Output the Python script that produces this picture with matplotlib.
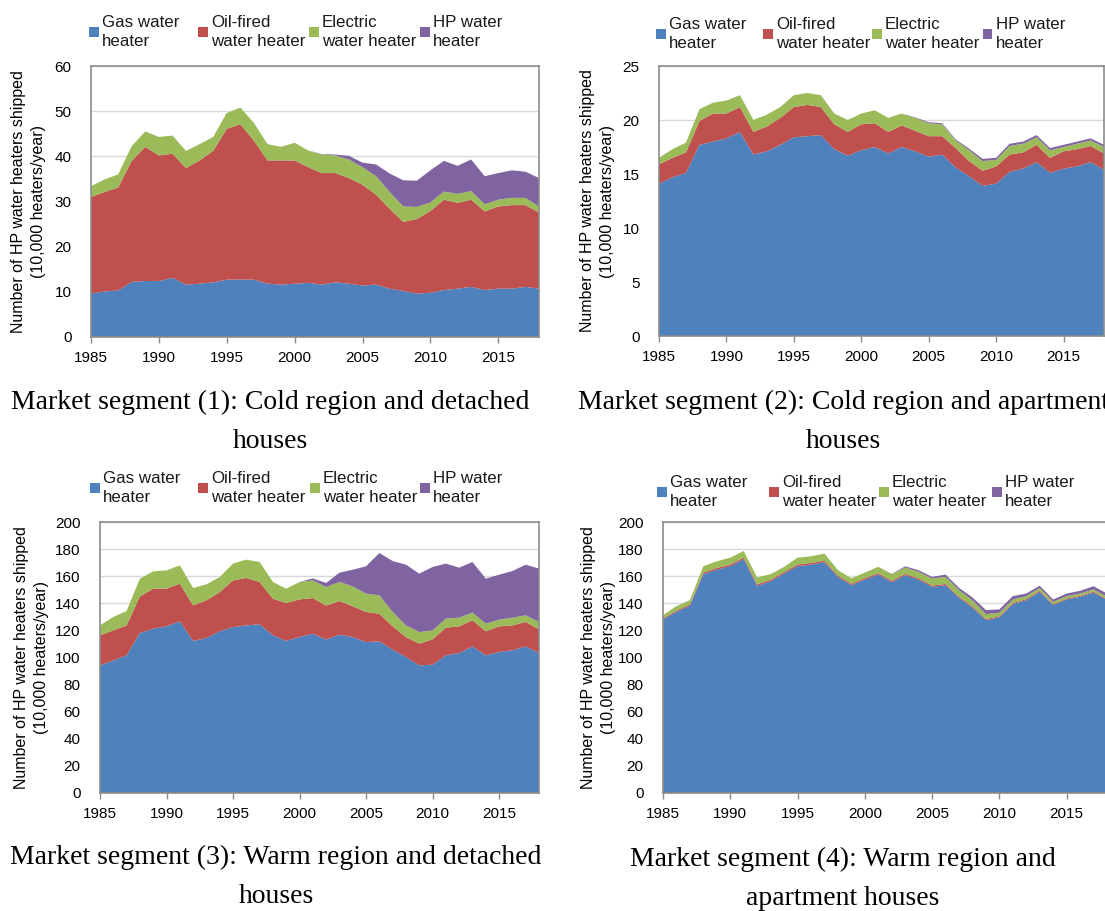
import matplotlib
matplotlib.use("Agg")
import matplotlib.pyplot as plt
from matplotlib.patches import Rectangle

W, H = 1105, 911

years = list(range(1985, 2019))

# shipments, 10,000 heaters/year
# (1) cold region, detached houses
gas_1 = [9.6, 10.1, 10.3, 12.2, 12.4, 12.4, 13.1, 11.6, 11.8, 12.1, 12.7, 12.7,
         12.7, 11.8, 11.6, 11.8, 12.0, 11.6, 12.1, 11.8, 11.4, 11.6, 10.7, 10.2,
         9.6, 9.8, 10.4, 10.7, 11.1, 10.4, 10.7, 10.7, 11.1, 10.7]
oil_1 = [21.4, 22.0, 22.8, 26.8, 29.7, 27.8, 27.5, 25.8, 27.3, 29.1, 33.4, 34.4,
         30.8, 27.3, 27.5, 27.3, 25.6, 24.7, 24.2, 23.4, 22.3, 19.9, 17.7, 15.3,
         16.5, 18.1, 20.0, 19.0, 19.3, 17.4, 18.2, 18.5, 18.1, 16.9]
elec_1 = [2.4, 2.8, 2.9, 3.3, 3.4, 4.1, 4.0, 3.8, 3.6, 3.1, 3.5, 3.7,
          3.9, 3.6, 3.0, 3.9, 3.7, 4.1, 3.9, 4.1, 3.9, 4.1, 3.7, 3.4,
          2.7, 1.9, 1.8, 2.0, 1.9, 1.6, 1.5, 1.6, 1.6, 1.3]
hp_1 = [0, 0, 0, 0, 0, 0, 0, 0, 0, 0, 0, 0,
        0, 0, 0, 0, 0, 0.1, 0.2, 0.8, 1.0, 2.6, 4.1, 5.8,
        5.8, 7.1, 6.8, 6.2, 7.0, 6.2, 5.9, 6.1, 5.8, 6.3]

# (2) cold region, apartment houses
gas_2 = [14.1, 14.7, 15.1, 17.7, 18.0, 18.3, 18.9, 16.8, 17.1, 17.7, 18.4, 18.5,
         18.6, 17.3, 16.7, 17.2, 17.5, 16.9, 17.5, 17.1, 16.6, 16.8, 15.6, 14.8,
         13.9, 14.1, 15.2, 15.5, 16.1, 15.1, 15.5, 15.7, 16.1, 15.4]
oil_2 = [1.8, 1.8, 1.9, 2.2, 2.6, 2.3, 2.3, 2.1, 2.3, 2.5, 2.8, 2.9,
         2.6, 2.3, 2.2, 2.4, 2.2, 2.0, 2.0, 1.9, 1.9, 1.7, 1.8, 1.4,
         1.4, 1.6, 1.6, 1.5, 1.6, 1.4, 1.6, 1.6, 1.5, 1.5]
elec_2 = [0.6, 0.8, 0.9, 1.1, 1.0, 1.2, 1.1, 1.1, 1.1, 1.0, 1.1, 1.1,
          1.1, 1.0, 1.1, 1.0, 1.2, 1.3, 1.1, 1.2, 1.2, 1.1, 0.7, 1.0,
          0.9, 0.6, 0.8, 0.8, 0.7, 0.7, 0.4, 0.5, 0.5, 0.6]
hp_2 = [0, 0, 0, 0, 0, 0, 0, 0, 0, 0, 0, 0,
        0, 0, 0, 0, 0, 0, 0, 0.05, 0.1, 0.1, 0.1, 0.15,
        0.2, 0.2, 0.2, 0.2, 0.2, 0.2, 0.2, 0.2, 0.2, 0.2]

# (3) warm region, detached houses
gas_3 = [94.2, 97.9, 101.6, 118.1, 121.3, 123.0, 126.7, 112.2, 114.4, 119.3, 122.5, 123.7,
         124.5, 116.4, 112.2, 115.1, 117.6, 113.2, 116.9, 115.1, 111.4, 111.9, 105.8, 100.4,
         94.2, 94.7, 101.6, 103.3, 108.2, 101.6, 104.1, 105.3, 108.2, 103.3]
oil_3 = [22.2, 22.1, 22.1, 27.0, 29.5, 27.8, 27.8, 26.3, 27.8, 29.0, 34.4, 35.0,
         31.2, 27.0, 28.0, 27.8, 26.3, 25.1, 24.8, 22.7, 22.2, 20.4, 17.2, 14.7,
         16.0, 18.7, 20.4, 19.7, 19.2, 17.7, 18.9, 18.4, 18.0, 17.5]
elec_3 = [7.3, 9.9, 10.6, 13.1, 12.8, 13.5, 13.5, 12.8, 11.8, 11.1, 12.4, 13.5,
          14.8, 12.3, 10.6, 12.8, 13.0, 13.7, 14.0, 14.7, 13.5, 13.6, 10.6, 8.6,
          8.6, 6.6, 6.7, 6.4, 5.7, 5.7, 4.9, 5.7, 4.9, 5.4]
hp_3 = [0, 0, 0, 0, 0, 0, 0, 0, 0, 0, 0, 0,
        0, 0, 0, 0, 1.5, 3.0, 6.9, 12.3, 20.2, 31.2, 37.6, 44.8,
        43.1, 46.8, 40.6, 36.9, 37.4, 33.2, 33.2, 34.4, 37.4, 39.4]

# (4) warm region, apartment houses
gas_4 = [128.1, 133.7, 138.2, 161.5, 164.9, 167.4, 172.5, 152.9, 156.3, 162.0, 167.4, 168.6,
         170.3, 159.5, 153.4, 157.5, 161.2, 155.6, 160.7, 157.5, 152.1, 153.4, 144.0, 136.9,
         127.6, 129.6, 139.4, 142.3, 148.5, 138.7, 142.8, 144.8, 148.0, 142.3]
oil_4 = [0.8, 0.9, 1.0, 1.2, 1.2, 1.2, 1.2, 1.1, 1.1, 1.1, 1.2, 1.2,
         1.1, 1.0, 1.0, 1.0, 1.0, 1.0, 1.0, 1.0, 1.0, 0.9, 0.9, 0.9,
         0.8, 0.8, 0.8, 0.8, 0.8, 0.7, 0.7, 0.7, 0.7, 0.7]
elec_4 = [2.4, 3.3, 3.1, 4.7, 4.9, 5.1, 4.9, 5.0, 4.1, 3.8, 5.1, 4.9,
          5.3, 4.0, 4.0, 4.2, 4.7, 4.9, 4.7, 4.7, 5.2, 5.2, 4.8, 4.5,
          3.6, 2.6, 2.6, 2.2, 2.0, 1.7, 1.8, 1.7, 1.5, 1.8]
hp_4 = [0, 0, 0, 0, 0, 0, 0, 0, 0, 0, 0, 0,
        0, 0, 0, 0, 0, 0.2, 0.9, 1.2, 1.2, 1.7, 1.7, 2.0,
        3.0, 2.5, 2.5, 1.9, 1.7, 1.7, 1.9, 2.0, 2.4, 2.4]

labels = ["Gas water\nheater", "Oil-fired\nwater heater",
          "Electric\nwater heater", "HP water\nheater"]
colors = ["#4F81BD", "#C0504D", "#9BBB59", "#8064A2"]

captions = ["Market segment (1): Cold region and detached\nhouses",
            "Market segment (2): Cold region and apartment\nhouses",
            "Market segment (3): Warm region and detached\nhouses",
            "Market segment (4): Warm region and\napartment houses"]

ylabel = "Number of HP water heaters shipped\n(10,000 heaters/year)"

plt.rcParams["font.family"] = ["Liberation Sans", "DejaVu Sans"]

fig = plt.figure(figsize=(W / 100, H / 100), dpi=100)

# axes boxes in pixels: left, top, right, bottom
boxes = [(91, 66, 539, 337), (659, 66, 1104, 336),
         (100, 522, 539, 793), (663, 522, 1107, 793)]
ymaxes = [60, 25, 200, 200]
ysteps = [10, 5, 20, 20]
series = [(gas_1, oil_1, elec_1, hp_1), (gas_2, oil_2, elec_2, hp_2),
          (gas_3, oil_3, elec_3, hp_3), (gas_4, oil_4, elec_4, hp_4)]
ylab_off = [45, 44, 51, 47]
legend_y = [32, 34, 488, 492]
legend_off = [(-2, 107, 218, 329), (-3, 104, 213, 324),
              (-10, 98, 210, 320), (-6, 106, 216, 329)]
caption_xy = [(270, 422), (843, 422), (276, 877), (843, 879)]


def add_legend(left_px, y_px, offsets):
    for lab, col, off in zip(labels, colors, offsets):
        hx = left_px + off
        fig.patches.append(Rectangle((hx / W, 1 - (y_px + 4.5) / H), 9.5 / W, 9.5 / H,
                                     transform=fig.transFigure, facecolor=col,
                                     edgecolor="none"))
        fig.text((hx + 13) / W, 1 - y_px / H, lab, ha="left", va="center",
                 fontsize=12.2, linespacing=1.38, color="#1a1a1a")


for i in range(4):
    l, t, r, b = boxes[i]
    ax = fig.add_axes([l / W, 1 - b / H, (r - l) / W, (b - t) / H])
    ax.stackplot(years, *series[i], colors=colors, linewidth=0)
    ax.set_xlim(1985, 2018)
    ax.set_ylim(0, ymaxes[i])
    ax.set_xticks(range(1985, 2016, 5))
    ax.set_yticks(range(0, ymaxes[i] + 1, ysteps[i]))
    ax.yaxis.grid(True, color="#D9D9D9", linewidth=1)
    ax.set_axisbelow(True)
    for sp in ax.spines.values():
        sp.set_color("#8C8C8C")
        sp.set_linewidth(1.2)
    ax.tick_params(axis="y", length=0, pad=14, labelsize=11)
    ax.tick_params(axis="x", length=4, width=1, color="#8C8C8C", pad=6, labelsize=11)
    ax.set_ylabel(ylabel, fontsize=11.5, linespacing=1.4)
    ax.yaxis.set_label_coords(-ylab_off[i] / (r - l), 0.5)

    add_legend(l, legend_y[i], legend_off[i])
    cx, cy = caption_xy[i]
    fig.text(cx / W, 1 - cy / H, captions[i], ha="center", va="center",
             fontsize=20, family="Liberation Serif", linespacing=1.75)

fig.savefig("out.png", dpi=100)
